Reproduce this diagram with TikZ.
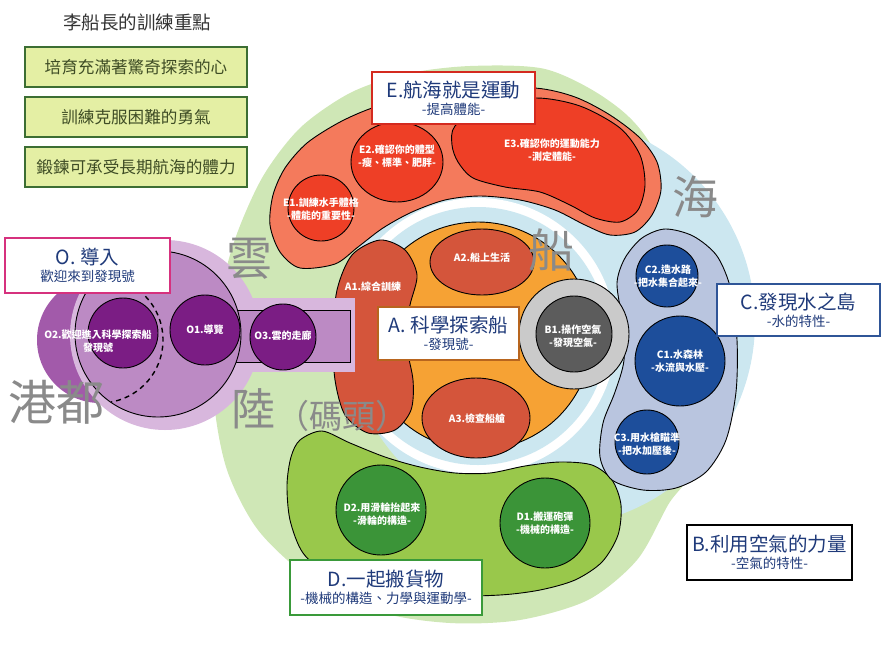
\documentclass[tikz,border=0pt]{standalone}
\usepackage{fontspec}
\setmainfont{Noto Sans CJK TC}
\usetikzlibrary{shapes.geometric}

\definecolor{land}{HTML}{CFE7B6}
\definecolor{sea}{HTML}{CCE7F0}
\definecolor{eSalmon}{HTML}{F47A5C}
\definecolor{eRed}{HTML}{EE3F26}
\definecolor{aOrange}{HTML}{F6A234}
\definecolor{aBrick}{HTML}{D4553B}
\definecolor{bLight}{HTML}{CACACA}
\definecolor{bDark}{HTML}{5C5C5C}
\definecolor{cPill}{HTML}{B9C5DF}
\definecolor{cBlue}{HTML}{1D4E9B}
\definecolor{dLime}{HTML}{99C84B}
\definecolor{dGreen}{HTML}{3B9438}
\definecolor{oPale}{HTML}{D8B7DD}
\definecolor{oMid}{HTML}{BC8AC4}
\definecolor{oDark}{HTML}{A25AAA}
\definecolor{oDeep}{HTML}{7B1D84}
\definecolor{navy}{HTML}{1F3A7A}
\definecolor{charGray}{HTML}{8A8A8A}
\definecolor{goalFill}{HTML}{E4EFA4}
\definecolor{goalLine}{HTML}{3C6E33}
\definecolor{goalText}{HTML}{3E4C25}

\tikzset{
  outline/.style={draw=black, line width=0.9pt},
  spottext/.style={text=white, align=center, inner sep=0pt, font=\bfseries\fontsize{10}{13}\selectfont},
  goalbox/.style={draw=goalLine, fill=goalFill, line width=1.6pt, minimum width=222, minimum height=40, inner sep=0pt, text=goalText, font=\fontsize{16.6}{18}\selectfont},
  tagbox/.style={fill=white, line width=2.5pt, align=center, inner sep=0pt, text=navy},
  bigchar/.style={text=charGray, inner sep=0pt, font=\fontsize{46}{46}\selectfont}
}
\newcommand{\headfont}{\fontsize{19.5}{24}\selectfont}
\newcommand{\subfont}{\fontsize{13.5}{16}\selectfont}

\begin{document}
\begin{tikzpicture}[x=1pt,y=-1pt]
		\useasboundingbox (0,0) rectangle (885,664);
		
		%%%%% land and sea %%%%%
		\fill[land] plot[smooth cycle] coordinates {(470,66) (545,69) (605,98) (648,140) (705,250) (705,440) (668,505) (637,560) (588,600) (520,620) (450,623) (380,612) (310,578) (258,530) (227,470) (214,400) (216,320) (233,245) (262,178) (300,128) (350,93) (405,74)};
		\fill[sea] (550,322) circle (205);
		\fill[white] (478,336) circle (138);
		\fill[sea] (478,336) circle (129);
		
		%%%%% E %%%%%
		\filldraw[fill=eSalmon, outline] plot[smooth cycle] coordinates {(300,268) (280,252) (270,225) (273,195) (285,168) (307,143) (340,122) (375,107) (420,96) (470,89) (535,88) (575,97) (610,115) (640,138) (657,162) (661,190) (652,215) (635,232) (610,235) (585,225) (555,210) (520,200) (480,196) (445,200) (412,212) (383,228) (358,247) (335,264)};
		\filldraw[fill=eRed, outline] plot[smooth cycle] coordinates {(455,126) (485,108) (535,98) (580,106) (620,128) (640,155) (645,185) (638,210) (620,222) (595,218) (570,205) (540,192) (505,187) (473,178) (458,162) (452,145)};
		\filldraw[fill=eRed, outline] (321,208) circle (33);
		\filldraw[fill=eRed, outline] (397,162) ellipse (46 and 40);
		\node[spottext] (e1) at (321,209) {E1.訓練水手體格\\-體能的重要性-};
		\node[spottext] (e2) at (397,156) {E2.確認你的體型\\-瘦、標準、肥胖-};
		\node[spottext] (e3) at (552,150) {E3.確認你的運動能力\\-測定體能-};
		
		%%%%% D %%%%%
		\filldraw[fill=dLime, outline] plot[smooth cycle] coordinates {(300,440) (322,431) (350,443) (385,457) (420,467) (455,473) (490,473) (525,466) (560,462) (592,465) (612,480) (621,505) (618,535) (602,562) (575,580) (540,590) (500,595) (440,596) (380,590) (330,575) (303,553) (290,520) (287,485) (291,457)};
		\filldraw[fill=dGreen, outline] (381,510) circle (45);
		\filldraw[fill=dGreen, outline] (545,523) circle (45);
		\node[spottext] (d2) at (382,514) {D2.用滑輪抬起來\\-滑輪的構造-};
		\node[spottext] (d1) at (545,523) {D1.搬運砲彈\\-機械的構造-};
		
		%%%%% C %%%%%
		\filldraw[fill=cPill, outline] plot[smooth cycle] coordinates {(617,283) (625,258) (642,238) (665,229) (693,236) (717,256) (731,290) (737,340) (736,392) (726,440) (706,472) (676,488) (643,490) (612,480) (600,457) (603,423) (615,392) (624,360) (622,320)};
		\filldraw[fill=cBlue, outline] (667,276) circle (31);
		\filldraw[fill=cBlue, outline] (680,361) circle (45);
		\filldraw[fill=cBlue, outline] (647,442) circle (32);
		\node[spottext] (c2) at (668,276) {C2.造水路\\-把水集合起來-};
		\node[spottext] (c1) at (680,361) {C1.水森林\\-水流與水壓-};
		\node[spottext] (c3) at (647,444) {C3.用水槍瞄準\\-把水加壓後-};
		
		%%%%% A and B1 %%%%%
		\filldraw[fill=aOrange, outline] (478,336) circle (114);
		\filldraw[fill=aBrick, outline] plot[smooth cycle] coordinates {(380,240) (405,250) (417,275) (410,305) (405,337) (413,380) (411,410) (395,430) (368,433) (345,415) (335,380) (333,337) (337,290) (352,255)};
		\filldraw[fill=aBrick, outline] (482,262) ellipse (52 and 33);
		\filldraw[fill=aBrick, outline] (476,418) ellipse (54 and 40);
		\filldraw[fill=bLight, outline] (574,334) circle (55);
		\filldraw[fill=bDark, outline] (574,334) circle (38);
		\node[spottext] (a1) at (373,287) {A1.綜合訓練};
		\node[spottext] (a2) at (482,258) {A2.船上生活};
		\node[spottext] (a3) at (477,419) {A3.檢查船艙};
		\node[spottext] (b1) at (573,336) {B1.操作空氣\\-發現空氣-};
		
		%%%%% O %%%%%
		\fill[oDark] (100,340) circle (63);
		\fill[oPale] (165,335) circle (95);
		\fill[oPale] (233,298) rectangle (355,372);
		\filldraw[fill=oMid, outline] (225,310) rectangle (350,362);
		\filldraw[fill=oMid, outline] (158,334) circle (83);
		\draw[dashed, line width=1.4pt, dash pattern=on 5pt off 4pt] ([shift={(-44:63)}]100,340) arc[start angle=-44, end angle=80, radius=63];
		\filldraw[fill=oDeep, outline] (123,333) circle (35);
		\filldraw[fill=oDeep, outline] (205,330) circle (35);
		\filldraw[fill=oDeep, outline] (283,337) circle (33);
		\node[spottext] (o2) at (98,341) {O2.歡迎進入科學探索船\\發現號};
		\node[spottext] (o1) at (205,330) {O1.導覽};
		\node[spottext] (o3) at (283,336) {O3.雲的走廊};
		
		%%%%% big place names %%%%%
		\node[bigchar] (yun) at (249,259) {雲};
		\node[bigchar, font=\fontsize{44}{44}\selectfont] (lu) at (253,409) {陸};
		\node[bigchar, font=\fontsize{33}{33}\selectfont] (matou) at (342,416) {（碼頭）};
		\node[bigchar, font=\fontsize{48}{48}\selectfont] (gangdu) at (57,402) {港都};
		\node[bigchar] (chuan) at (551,250) {船};
		\node[bigchar] (hai) at (695,197) {海};
		
		%%%%% labels %%%%%
		\node[tagbox, draw={rgb,255:red,212;green,42;blue,31}, minimum width=163, minimum height=52] (ebox) at (453.5,98) {{\headfont E.航海就是運動}\\[3pt]{\subfont -提高體能-}};
		\node[tagbox, draw={rgb,255:red,184;green,101;blue,30}, minimum width=141, minimum height=53] (abox) at (448.5,333.5) {{\headfont A. 科學探索船}\\[3pt]{\subfont -發現號-}};
		\node[tagbox, draw={rgb,255:red,47;green,85;blue,151}, minimum width=163, minimum height=52] (cbox) at (798.5,310) {{\headfont C.發現水之島}\\[3pt]{\subfont -水的特性-}};
		\node[tagbox, draw={rgb,255:red,58;green,154;blue,58}, minimum width=192, minimum height=55] (dbox) at (386,587.5) {{\headfont D.一起搬貨物}\\[3pt]{\subfont -機械的構造、力學與運動學-}};
		\node[tagbox, draw=black, minimum width=165, minimum height=55] (bbox) at (769.5,552.5) {{\headfont B.利用空氣的力量}\\[3pt]{\subfont -空氣的特性-}};
		\node[tagbox, draw={rgb,255:red,214;green,49;blue,126}, minimum width=165, minimum height=55] (obox) at (87.5,265.5) {{\headfont O. 導入}\\[3pt]{\subfont 歡迎來到發現號}};
		
		%%%%% training goals %%%%%
		\node[font=\fontsize{18.5}{20}\selectfont, text=black!80] (goals) at (137,22) {李船長的訓練重點};
		\node[goalbox] (goal1) at (136,67) {培育充滿著驚奇探索的心};
		\node[goalbox] (goal2) at (136,117) {訓練克服困難的勇氣};
		\node[goalbox] (goal3) at (136,167) {鍛鍊可承受長期航海的體力};
		
\end{tikzpicture}
\end{document}
